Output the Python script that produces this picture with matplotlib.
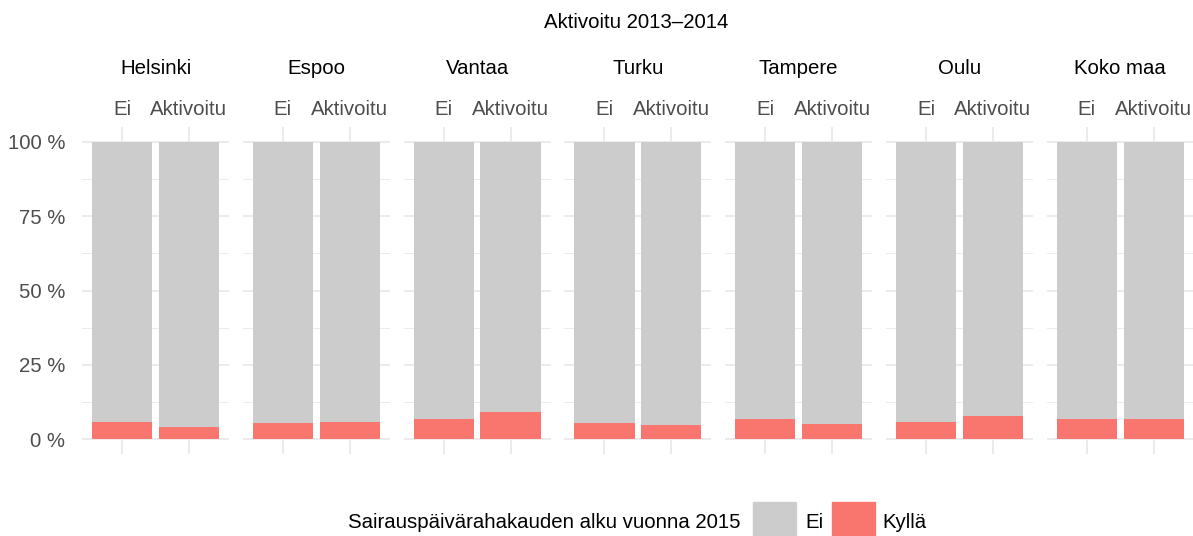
import numpy as np
import matplotlib
matplotlib.use("Agg")
import matplotlib.pyplot as plt
from matplotlib.patches import Rectangle

plt.rcParams['font.family'] = ['Liberation Sans', 'DejaVu Sans']

# Data: share (%) of "Kyllä" per city and activation group
cities = ["Helsinki", "Espoo", "Vantaa", "Turku", "Tampere", "Oulu", "Koko maa"]
groups = ["Ei", "Aktivoitu"]
kylla_ei = [5.6, 5.4, 6.8, 5.4, 6.8, 5.8, 6.8]
kylla_akt = [4.2, 5.6, 9.0, 4.6, 5.2, 7.8, 6.7]

grey = "#CCCCCC"
red = "#F8766D"
gridc = "#EBEBEB"
txtgrey = "#4D4D4D"
fs = 14.7

W, H = 1193, 536
fig = plt.figure(figsize=(W / 100, H / 100), dpi=100)

left = 82 / W
pw = 147 / W
step = 160.8 / W
bottom = 82 / H
ph = 327 / H

x = np.arange(1, len(groups) + 1)
for i, city in enumerate(cities):
    ax = fig.add_axes([left + i * step, bottom, pw, ph])
    kyl = np.array([kylla_ei[i], kylla_akt[i]])
    ax.bar(x, 100 - kyl, bottom=kyl, width=0.9, color=grey, zorder=2)
    ax.bar(x, kyl, width=0.9, color=red, zorder=2)
    ax.set_xlim(0.4, 2.6)
    ax.set_ylim(-5, 105)
    ax.set_yticks([0, 25, 50, 75, 100])
    ax.set_yticks([12.5, 37.5, 62.5, 87.5], minor=True)
    ax.grid(axis='y', which='major', color=gridc, lw=1.4, zorder=0)
    ax.grid(axis='y', which='minor', color=gridc, lw=0.7, zorder=0)
    ax.grid(axis='x', which='major', color=gridc, lw=1.4, zorder=0)
    ax.xaxis.tick_top()
    ax.set_xticks(x)
    ax.set_xticklabels(groups, fontsize=fs, color=txtgrey)
    ax.tick_params(axis='x', length=0, pad=6)
    ax.tick_params(axis='y', which='both', length=0)
    if i == 0:
        ax.set_yticklabels(["0 %", "25 %", "50 %", "75 %", "100 %"],
                           fontsize=fs, color=txtgrey)
        ax.tick_params(axis='y', pad=12)
    else:
        ax.set_yticklabels([])
    for s in ax.spines.values():
        s.set_visible(False)
    fig.text(left + i * step + pw / 2, 1 - 68 / H, city, fontsize=fs,
             ha='center', va='center')

fig.text(636 / W, 1 - 22 / H, "Aktivoitu 2013\u20132014", fontsize=fs,
         ha='center', va='center')

# legend
ly = 1 - 522 / H
fig.text(740 / W, ly, "Sairauspäivärahakauden alku vuonna 2015", fontsize=fs,
         ha='right', va='center')
fig.patches.append(Rectangle((753 / W, 1 - 538 / H), 43 / W, 36 / H,
                             transform=fig.transFigure, color=grey))
fig.text(805 / W, ly, "Ei", fontsize=fs, ha='left', va='center')
fig.patches.append(Rectangle((832 / W, 1 - 538 / H), 43 / W, 36 / H,
                             transform=fig.transFigure, color=red))
fig.text(882 / W, ly, "Kyllä", fontsize=fs, ha='left', va='center')

fig.savefig("out.png", dpi=100)
